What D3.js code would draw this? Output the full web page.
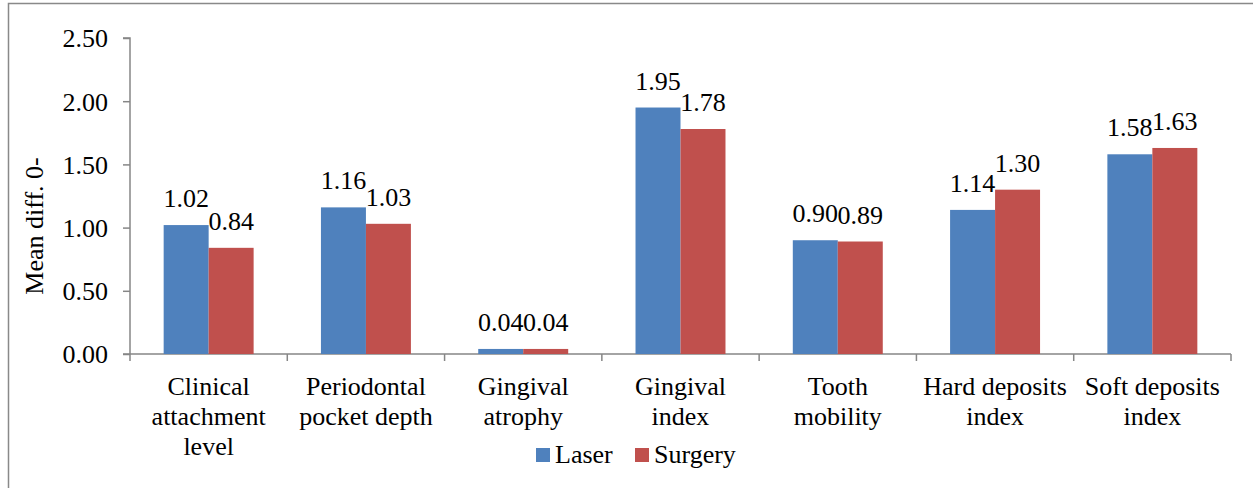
<!DOCTYPE html>
<html>
<head>
<meta charset="utf-8">
<script src="https://cdn.jsdelivr.net/npm/d3@7"></script>
<style>
  body { margin: 0; background: #fff; }
</style>
</head>
<body>
<svg id="chart"></svg>
<script>
// chart data
var categories = [
    ["Clinical", "attachment", "level"],
    ["Periodontal", "pocket depth"],
    ["Gingival", "atrophy"],
    ["Gingival", "index"],
    ["Tooth", "mobility"],
    ["Hard deposits", "index"],
    ["Soft deposits", "index"]
];
var seriesNames = ["Laser", "Surgery"];
var laser = [1.02, 1.16, 0.04, 1.95, 0.90, 1.14, 1.58];
var surgery = [0.84, 1.03, 0.04, 1.78, 0.89, 1.30, 1.63];
var yTicks = [0, 0.5, 1.0, 1.5, 2.0, 2.5];
var colors = ["#4f81bd", "#c0504d"];

var FONT = "'Liberation Serif', 'DejaVu Serif', serif";
var width = 1253, height = 488;
var svg = d3.select("#chart").attr("width", width).attr("height", height);

// outer frame (only left and top edges show in the crop)
svg.append("path")
    .attr("d", "M8.5," + height + "V3.5H" + width)
    .attr("fill", "none")
    .attr("stroke", "#898989")
    .attr("stroke-width", 1.5);

var plot = { left: 130, right: 1231, top: 38, bottom: 354 };

var keys = categories.map(function(d, i) { return i; });
var x0 = d3.scaleBand().domain(keys).range([plot.left, plot.right])
    .paddingInner(0.428).paddingOuter(0.214);
var x1 = d3.scaleBand().domain(seriesNames).range([0, x0.bandwidth()]);
var y = d3.scaleLinear().domain([0, 2.5]).range([plot.bottom, plot.top]);

// y axis
var yAxis = d3.axisLeft(y).tickValues(yTicks).tickSize(7).tickPadding(15)
    .tickFormat(d3.format(".2f"));
var gy = svg.append("g").attr("transform", "translate(" + plot.left + ",0)").call(yAxis);
gy.attr("font-family", null).attr("font-size", null);
gy.select(".domain").attr("stroke", "#868686").attr("stroke-width", 1.5)
    .attr("d", "M-7," + plot.top + "H0V" + plot.bottom);
gy.selectAll(".tick line").attr("stroke", "#868686").attr("stroke-width", 1.5);
gy.selectAll(".tick text").attr("dy", "0.34em");

// x axis line + boundary ticks
var step = x0.step();
var bounds = d3.range(categories.length + 1).map(function(i) { return plot.left + i * step; });
svg.append("line")
    .attr("x1", plot.left - 7).attr("x2", bounds[bounds.length - 1])
    .attr("y1", plot.bottom).attr("y2", plot.bottom)
    .attr("stroke", "#868686").attr("stroke-width", 1.5);
svg.selectAll(".xtick").data(bounds).enter().append("line")
    .attr("class", "xtick")
    .attr("x1", function(d) { return d; }).attr("x2", function(d) { return d; })
    .attr("y1", plot.bottom).attr("y2", plot.bottom + 7)
    .attr("stroke", "#868686").attr("stroke-width", 1.5);

// bars
var groups = svg.selectAll(".grp").data(keys).enter().append("g")
    .attr("class", "grp")
    .attr("transform", function(i) { return "translate(" + x0(i) + ",0)"; });

groups.selectAll("rect")
    .data(function(i) { return [{ s: "Laser", v: laser[i] }, { s: "Surgery", v: surgery[i] }]; })
    .enter().append("rect")
    .attr("x", function(d) { return x1(d.s); })
    .attr("y", function(d) { return y(d.v); })
    .attr("width", x1.bandwidth())
    .attr("height", function(d) { return plot.bottom - y(d.v); })
    .attr("fill", function(d, j) { return colors[j]; });

groups.selectAll(".val")
    .data(function(i) { return [{ s: "Laser", v: laser[i] }, { s: "Surgery", v: surgery[i] }]; })
    .enter().append("text")
    .attr("class", "val")
    .attr("x", function(d) { return x1(d.s) + x1.bandwidth() / 2; })
    .attr("y", function(d) { return y(d.v) - 18; })
    .attr("text-anchor", "middle")
    .text(function(d) { return d.v.toFixed(2); });

// category labels
svg.selectAll(".cat").data(categories).enter().append("text")
    .attr("class", "cat")
    .attr("text-anchor", "middle")
    .each(function(lines, i) {
        var t = d3.select(this);
        lines.forEach(function(l, k) {
            t.append("tspan")
                .attr("x", x0(i) + x0.bandwidth() / 2)
                .attr("y", 395 + k * 30)
                .text(l);
        });
    });

// y axis title
svg.append("text")
    .attr("transform", "translate(43,226) rotate(-90)")
    .attr("text-anchor", "middle")
    .text("Mean diff. 0-");

// legend
var legendX = [536, 635];
var legend = svg.selectAll(".leg").data(seriesNames).enter().append("g")
    .attr("class", "leg")
    .attr("transform", function(d, i) { return "translate(" + legendX[i] + ",448)"; });
legend.append("rect").attr("width", 14).attr("height", 14)
    .attr("fill", function(d, i) { return colors[i]; });
legend.append("text").attr("x", 19).attr("y", 15)
    .text(function(d) { return d; });

// one font for every label
svg.selectAll("text")
    .style("font-family", FONT)
    .style("font-size", "26px")
    .style("fill", "#000");
</script>
</body>
</html>
